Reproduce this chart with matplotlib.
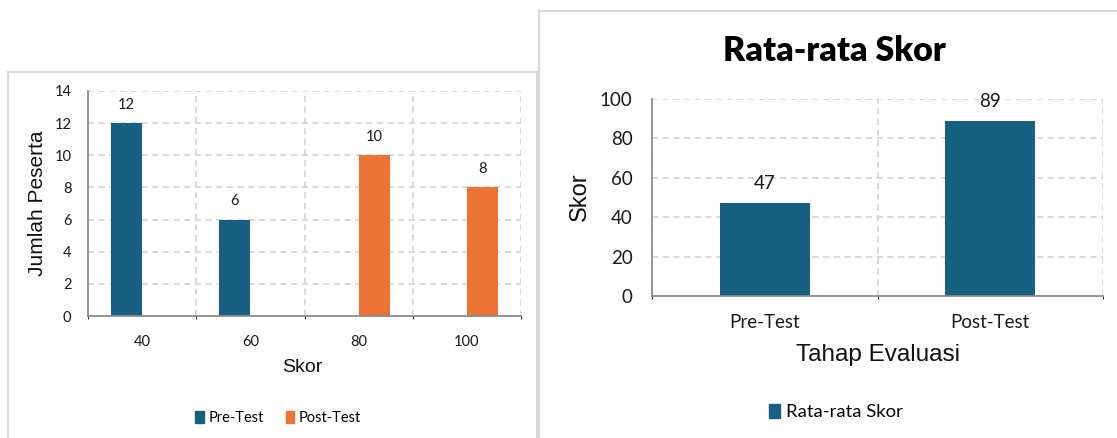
import matplotlib
matplotlib.use('Agg')
import matplotlib.pyplot as plt
from matplotlib.patches import Rectangle, Patch
import numpy as np

# data kiri: distribusi skor
skor = ['40', '60', '80', '100']
pre_test = [12, 6, 0, 0]
post_test = [0, 0, 10, 8]

# data kanan: rata-rata skor
tahap = ['Pre-Test', 'Post-Test']
rata_rata = [47, 89]

BIRU = '#186081'
ORANYE = '#EB7333'
GRID = '#d0d0d0'
SPINE = '#8c8c8c'
CAL = 'Lato'
ARIAL = 'Liberation Sans'

W, H = 1117, 438
fig = plt.figure(figsize=(W / 100, H / 100), dpi=100)


def fx(x):
    return x / W


def fy(y):
    return 1 - y / H


def kotak(x0, y0, x1, y1):
    return [fx(x0), fy(y1), fx(x1) - fx(x0), fy(y0) - fy(y1)]


# bingkai panel
fig.patches.append(Rectangle((fx(8), fy(445)), fx(537) - fx(8), fy(72) - fy(445),
                             transform=fig.transFigure, fill=False, ec='#d9d9d9', lw=1.5))
fig.patches.append(Rectangle((fx(539), fy(445)), fx(1125) - fx(539), fy(11) - fy(445),
                             transform=fig.transFigure, fill=False, ec='#d9d9d9', lw=1.5))


def gaya_sumbu(ax):
    for s in ['top', 'right']:
        ax.spines[s].set_visible(False)
    for s in ['left', 'bottom']:
        ax.spines[s].set_color(SPINE)
        ax.spines[s].set_linewidth(1.3)
    ax.tick_params(length=0)
    ax.grid(True, which='major', axis='y', color=GRID, ls=(0, (4, 3)), lw=1.1)
    ax.grid(True, which='minor', axis='x', color=GRID, ls=(0, (4, 3)), lw=1.1)
    ax.set_axisbelow(True)


# ---- panel kiri ----
ax1 = fig.add_axes(kotak(88, 91, 521, 316))
x = np.arange(len(skor))
lebar = 0.29
b1 = ax1.bar(x - lebar / 2, pre_test, lebar, color=BIRU, label='Pre-Test')
b2 = ax1.bar(x + lebar / 2, post_test, lebar, color=ORANYE, label='Post-Test')
ax1.set_xlim(-0.5, len(skor) - 0.5)
ax1.set_ylim(0, 14)
ax1.set_yticks(range(0, 15, 2))
ax1.set_xticks(x)
ax1.set_xticklabels(skor)
ax1.set_xticks(np.arange(len(skor) + 1) - 0.5, minor=True)
gaya_sumbu(ax1)
ax1.tick_params(axis='y', pad=12)
ax1.tick_params(axis='x', pad=14)
for lbl in ax1.get_xticklabels() + ax1.get_yticklabels():
    lbl.set_fontfamily(CAL)
    lbl.set_fontsize(10.5)
    lbl.set_color('#1a1a1a')
for bars, vals in [(b1, pre_test), (b2, post_test)]:
    for r, v in zip(bars, vals):
        if v:
            ax1.annotate(str(v), (r.get_x() + r.get_width() / 2, v), xytext=(0, 8),
                         textcoords='offset points', ha='center', va='bottom',
                         fontfamily=CAL, fontsize=10.5, color='#1a1a1a')
fig.text(fx(38), fy(203), 'Jumlah Peserta', rotation=90, ha='center', va='center',
         fontfamily=ARIAL, fontsize=15, color='#111111')
fig.text(fx(302), fy(368), 'Skor', ha='center', va='center',
         fontfamily=ARIAL, fontsize=14, color='#111111')
fig.legend(handles=[Patch(color=BIRU, label='Pre-Test'), Patch(color=ORANYE, label='Post-Test')],
           loc='center', bbox_to_anchor=(fx(278), fy(418)), ncol=2, frameon=False,
           handlelength=0.6, handleheight=0.8, handletextpad=0.3, columnspacing=1.5,
           prop={'family': CAL, 'size': 10.5})

# ---- panel kanan ----
ax2 = fig.add_axes(kotak(652, 99, 1103, 296))
x2 = np.arange(len(tahap))
b3 = ax2.bar(x2, rata_rata, 0.4, color=BIRU)
ax2.set_xlim(-0.5, len(tahap) - 0.5)
ax2.set_ylim(0, 100)
ax2.set_yticks(range(0, 101, 20))
ax2.set_xticks(x2)
ax2.set_xticklabels(tahap)
ax2.set_xticks(np.arange(len(tahap) + 1) - 0.5, minor=True)
gaya_sumbu(ax2)
ax2.tick_params(axis='y', pad=14)
ax2.tick_params(axis='x', pad=13)
for lbl in ax2.get_xticklabels() + ax2.get_yticklabels():
    lbl.set_fontfamily(CAL)
    lbl.set_fontsize(13.5)
    lbl.set_color('#1a1a1a')
for r, v in zip(b3, rata_rata):
    ax2.annotate(str(v), (r.get_x() + r.get_width() / 2, v), xytext=(0, 8),
                 textcoords='offset points', ha='center', va='bottom',
                 fontfamily=CAL, fontsize=13.5, color='#1a1a1a')
fig.text(fx(834), fy(51), 'Rata-rata Skor', ha='center', va='center',
         fontfamily=CAL, fontweight='heavy', fontsize=24.5, color='#000000')
fig.text(fx(580), fy(197), 'Skor', rotation=90, ha='center', va='center',
         fontfamily=ARIAL, fontsize=17, color='#111111')
fig.text(fx(878), fy(355), 'Tahap Evaluasi', ha='center', va='center',
         fontfamily=ARIAL, fontsize=17.5, color='#111111')
fig.legend(handles=[Patch(color=BIRU, label='Rata-rata Skor')],
           loc='center', bbox_to_anchor=(fx(836), fy(412)), frameon=False,
           handlelength=0.6, handleheight=0.8, handletextpad=0.3,
           prop={'family': CAL, 'size': 13.3})

fig.savefig('out.png', dpi=100)
plt.close(fig)
